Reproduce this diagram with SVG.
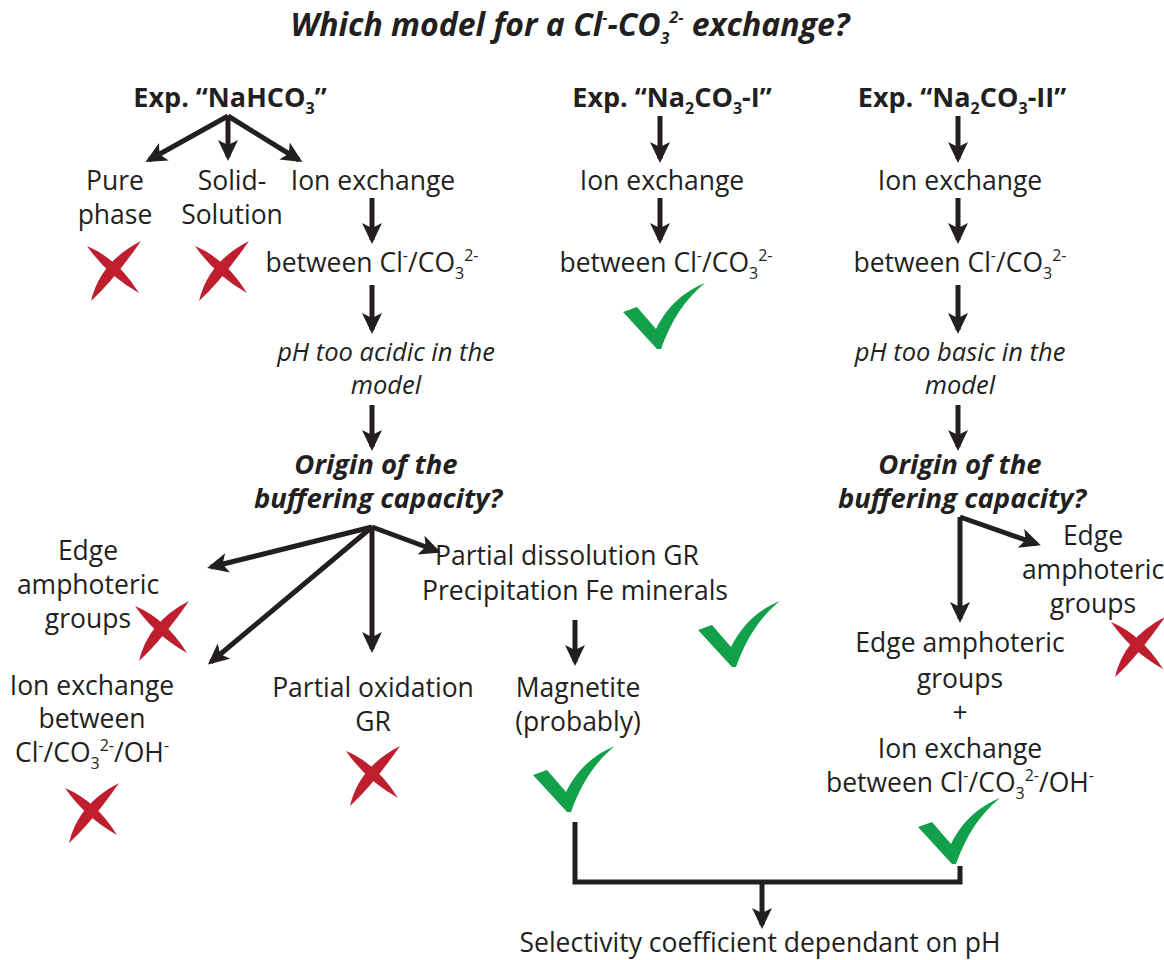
<svg xmlns="http://www.w3.org/2000/svg" width="1164" height="960" viewBox="0 0 1164 960">
<style>
text{font-family:"Open Sans","Noto Sans","Liberation Sans",sans-serif;fill:#231f20;text-anchor:middle;font-size:26.5px}
.b{font-weight:bold;font-size:27px}
.i{font-style:italic;font-size:25.5px}
.bi{font-weight:bold;font-style:italic;font-size:27.5px}
.s{font-size:16px}
.title{font-size:32px;font-weight:bold;font-style:italic}
.ar{fill:none;stroke:#231f20;stroke-width:5;marker-end:url(#ah)}
.ln{fill:none;stroke:#231f20;stroke-width:5}
</style>
<defs>
<marker id="ah" markerUnits="userSpaceOnUse" markerWidth="22" markerHeight="20" refX="17" refY="10" orient="auto" viewBox="0 0 22 20">
<path d="M0,0 L21,10 L0,20 L5,10 Z" fill="#231f20"/>
</marker>
<g id="cross">
<path d="M-23,31 Q-14,-8 27,-29 Q0,10 -23,31 Z" fill="#be1e2d"/>
<path d="M-27,-24 Q4,-11 25,23 Q-7,5 -27,-24 Z" fill="#be1e2d"/>
</g>
<g id="check">
<path d="M0,29 L14,24 L33,46 C45,22 62,8 82,0 C62,16 48,38 38,66 L34,66 Z" fill="#13a04a"/>
</g>
</defs>

<g id="title">
<text x="570" y="36" class="title">Which model for a Cl<tspan class="s" dy="-13">-</tspan><tspan dy="13">-CO</tspan><tspan class="s" dy="8">3</tspan><tspan class="s" dy="-21">2-</tspan><tspan dy="13"> exchange?</tspan></text>
</g>

<g id="connectors">
<path class="ar" d="M228,116 L149,160"/>
<path class="ar" d="M228,116 L228,157"/>
<path class="ar" d="M228,116 L299,160"/>
<path class="ar" d="M372,198 L372,240"/>
<path class="ar" d="M372,285 L372,330"/>
<path class="ar" d="M372,405 L372,447"/>
<path class="ar" d="M372,527 L211,567"/>
<path class="ar" d="M372,527 L211,662"/>
<path class="ar" d="M372,527 L372,649"/>
<path class="ar" d="M372,527 L437,551"/>
<path class="ar" d="M575,620 L575,662"/>
<path class="ar" d="M660,116 L660,159"/>
<path class="ar" d="M660,198 L660,240"/>
<path class="ar" d="M958,116 L958,159"/>
<path class="ar" d="M958,198 L958,240"/>
<path class="ar" d="M958,285 L958,330"/>
<path class="ar" d="M958,405 L958,447"/>
<path class="ar" d="M960,517 L1037,544"/>
<path class="ar" d="M960,517 L960,619"/>
<path class="ln" d="M575,822 V882 H960 V866"/>
<path class="ar" d="M762,882 L762,925"/>
</g>

<g id="exp-nahco3"><text x="230" y="107" class="b">Exp. “NaHCO<tspan class="s" dy="7">3</tspan><tspan dy="-7">”</tspan></text></g>
<g id="exp-na2co3-i"><text x="672" y="107" class="b">Exp. “Na<tspan class="s" dy="7">2</tspan><tspan dy="-7">CO</tspan><tspan class="s" dy="7">3</tspan><tspan dy="-7">-I”</tspan></text></g>
<g id="exp-na2co3-ii"><text x="962" y="107" class="b">Exp. “Na<tspan class="s" dy="7">2</tspan><tspan dy="-7">CO</tspan><tspan class="s" dy="7">3</tspan><tspan dy="-7">-II”</tspan></text></g>

<g id="pure-phase"><text x="115" y="190">Pure</text><text x="115" y="224">phase</text></g>
<g id="solid-solution"><text x="232" y="190">Solid-</text><text x="232" y="224">Solution</text></g>
<g id="ion-exchange-1"><text x="373" y="190">Ion exchange</text></g>
<g id="between-1"><text x="372" y="272">between Cl<tspan class="s" dy="-11">-</tspan><tspan dy="11">/CO</tspan><tspan class="s" dy="7">3</tspan><tspan class="s" dy="-18">2-</tspan></text></g>
<g id="ph-acidic"><text x="386" y="361" class="i">pH too acidic in the</text><text x="386" y="394" class="i">model</text></g>
<g id="origin-1"><text x="376" y="474" class="bi">Origin of the</text><text x="378" y="508" class="bi">buffering capacity?</text></g>
<g id="edge-1"><text x="88" y="560">Edge</text><text x="88" y="594">amphoteric</text><text x="88" y="628">groups</text></g>
<g id="ion-exchange-2"><text x="92" y="695">Ion exchange</text><text x="92" y="728">between</text><text x="92" y="762">Cl<tspan class="s" dy="-11">-</tspan><tspan dy="11">/CO</tspan><tspan class="s" dy="7">3</tspan><tspan class="s" dy="-18">2-</tspan><tspan dy="11">/OH</tspan><tspan class="s" dy="-11">-</tspan></text></g>
<g id="partial-oxidation"><text x="373" y="697">Partial oxidation</text><text x="373" y="731">GR</text></g>
<g id="partial-dissolution"><text x="567" y="565">Partial dissolution GR</text><text x="575" y="600">Precipitation Fe minerals</text></g>
<g id="magnetite"><text x="578" y="697">Magnetite</text><text x="578" y="731">(probably)</text></g>

<g id="ion-exchange-3"><text x="662" y="190">Ion exchange</text></g>
<g id="between-3"><text x="666" y="272">between Cl<tspan class="s" dy="-11">-</tspan><tspan dy="11">/CO</tspan><tspan class="s" dy="7">3</tspan><tspan class="s" dy="-18">2-</tspan></text></g>

<g id="ion-exchange-4"><text x="960" y="190">Ion exchange</text></g>
<g id="between-4"><text x="960" y="272">between Cl<tspan class="s" dy="-11">-</tspan><tspan dy="11">/CO</tspan><tspan class="s" dy="7">3</tspan><tspan class="s" dy="-18">2-</tspan></text></g>
<g id="ph-basic"><text x="960" y="361" class="i">pH too basic in the</text><text x="960" y="394" class="i">model</text></g>
<g id="origin-2"><text x="960" y="474" class="bi">Origin of the</text><text x="962" y="508" class="bi">buffering capacity?</text></g>
<g id="edge-2"><text x="1093" y="545">Edge</text><text x="1093" y="579">amphoteric</text><text x="1093" y="613">groups</text></g>
<g id="edge-ion"><text x="960" y="652">Edge amphoteric</text><text x="960" y="688">groups</text><text x="960" y="722">+</text><text x="960" y="758">Ion exchange</text><text x="960" y="792">between Cl<tspan class="s" dy="-11">-</tspan><tspan dy="11">/CO</tspan><tspan class="s" dy="7">3</tspan><tspan class="s" dy="-18">2-</tspan><tspan dy="11">/OH</tspan><tspan class="s" dy="-11">-</tspan></text></g>

<g id="selectivity"><text x="760" y="952">Selectivity coefficient dependant on pH</text></g>

<g id="marks">
<use href="#cross" x="114" y="270"/>
<use href="#cross" x="222" y="270"/>
<use href="#cross" x="162" y="630"/>
<use href="#cross" x="92" y="812"/>
<use href="#cross" x="373" y="775"/>
<use href="#cross" x="1138" y="646"/>
<use href="#check" x="623" y="283"/>
<use href="#check" x="698" y="601"/>
<use href="#check" x="533" y="746"/>
<use href="#check" x="918" y="798"/>
</g>
</svg>
